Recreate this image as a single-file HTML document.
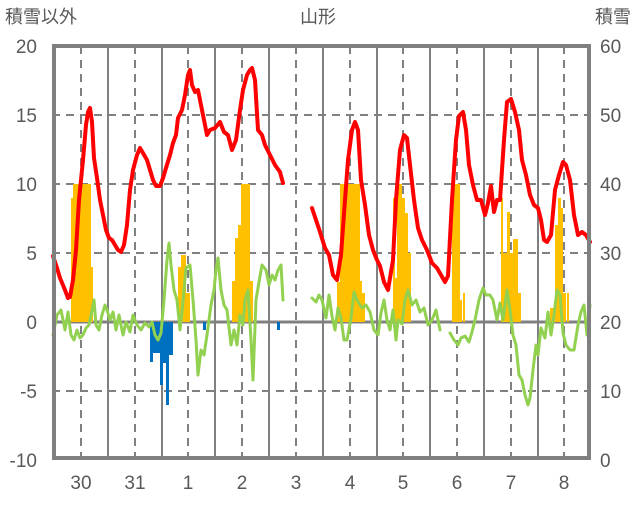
<!DOCTYPE html>
<html><head><meta charset="utf-8"><style>
body{margin:0;background:#fff}
text{font-family:"Liberation Sans","Noto Sans CJK JP",sans-serif;fill:#595959}
</style></head><body>
<svg width="636" height="501" viewBox="0 0 636 501" xmlns="http://www.w3.org/2000/svg">
<g font-size="18">
<text x="5" y="23">積雪以外</text>
<text x="318" y="23" text-anchor="middle">山形</text>
<text x="631" y="23" text-anchor="end">積雪</text>
</g>
<g font-size="19" text-anchor="end">
<text x="37" y="53">20</text><text x="37" y="122">15</text><text x="37" y="191">10</text>
<text x="37" y="260">5</text><text x="37" y="329">0</text><text x="37" y="398">-5</text><text x="37" y="467">-10</text>
</g>
<g font-size="19">
<text x="600" y="53">60</text><text x="600" y="122">50</text><text x="600" y="191">40</text>
<text x="600" y="260">30</text><text x="600" y="329">20</text><text x="600" y="398">10</text><text x="600" y="467">0</text>
</g>
<g font-size="19" text-anchor="middle">
<text x="81" y="489">30</text><text x="135" y="489">31</text><text x="188" y="489">1</text><text x="242" y="489">2</text>
<text x="296" y="489">3</text><text x="350" y="489">4</text><text x="403" y="489">5</text><text x="457" y="489">6</text>
<text x="511" y="489">7</text><text x="564" y="489">8</text>
</g>
<g stroke="#808080" stroke-width="2" stroke-dasharray="8,6" fill="none">
<path d="M52 115H591M52 184H591M52 253H591M52 391H591"/>
<path d="M81 46V460M135 46V460M188 46V460M242 46V460M296 46V460M350 46V460M403 46V460M457 46V460M511 46V460M564 46V460"/>
</g>
<g stroke="#808080" stroke-width="2">
<path d="M108 46V460M162 46V460M215 46V460M269 46V460M323 46V460M377 46V460M430 46V460M484 46V460M538 46V460"/>
</g>
<path d="M52 322H591" stroke="#808080" stroke-width="3"/>
<g fill="#FFC000">
<rect x="71" y="198" width="2" height="124"/><rect x="73" y="184" width="18" height="138"/><rect x="91" y="267" width="2" height="55"/>
<rect x="178" y="267" width="3" height="55"/><rect x="181" y="255" width="5" height="67"/><rect x="186" y="293" width="4" height="29"/>
<rect x="232" y="281" width="3" height="41"/><rect x="235" y="238" width="3" height="84"/><rect x="238" y="225" width="3" height="97"/><rect x="241" y="184" width="9" height="138"/><rect x="250" y="281" width="3" height="41"/>
<rect x="337" y="282" width="3" height="40"/><rect x="340" y="184" width="20" height="138"/><rect x="360" y="281" width="2" height="41"/><rect x="362" y="293" width="3" height="29"/>
<rect x="393" y="198" width="2" height="124"/><rect x="395" y="278" width="2" height="44"/><rect x="397" y="184" width="5" height="138"/><rect x="402" y="198" width="3" height="124"/><rect x="405" y="213" width="3" height="109"/><rect x="408" y="253" width="3" height="69"/>
<rect x="452" y="184" width="8" height="138"/><rect x="460" y="300" width="2" height="22"/><rect x="463" y="293" width="2" height="29"/>
<rect x="501" y="198" width="2" height="124"/><rect x="503" y="253" width="4" height="69"/><rect x="507" y="212" width="3" height="110"/><rect x="510" y="253" width="3" height="69"/><rect x="513" y="239" width="5" height="83"/><rect x="518" y="293" width="3" height="29"/>
<rect x="550" y="308" width="5" height="14"/><rect x="555" y="225" width="3" height="97"/><rect x="558" y="198" width="3" height="124"/><rect x="561" y="208" width="2" height="114"/><rect x="563" y="293" width="3" height="29"/><rect x="567" y="293" width="2" height="29"/>
</g>
<g fill="#0070C0">
<rect x="150" y="322" width="3" height="40"/><rect x="153" y="322" width="7" height="31"/><rect x="160" y="322" width="3" height="63"/><rect x="163" y="322" width="3" height="41"/><rect x="166" y="322" width="3" height="83"/><rect x="169" y="322" width="4" height="33"/>
<rect x="203" y="322" width="3" height="8"/><rect x="277" y="322" width="3" height="8"/>
</g>
<g fill="none" stroke-linejoin="round" stroke-linecap="round">
<polyline stroke="#92D050" stroke-width="3" points="53,335 57,315 61,310 65,330 68,312 71,335 74,340 77,330 80,338 83,335 86,328 89,325 92,310 94,300 96,325 99,330 102,315 105,305 107,310 110,320 113,312 116,330 119,315 123,335 126,322 130,332 133,315 137,325 141,330 145,323 149,327 152,322 155,335 158,340 161,333 164,300 167,260 169,243 171,265 174,290 177,300 180,330 182,312 186,268 190,265 193,300 196,340 198,375 201,350 204,355 207,335 211,305 214,290 216,270 218,258 221,290 224,305 227,310 231,345 234,330 237,345 240,315 243,325 245,300 248,290 251,340 253,380 256,300 259,282 262,265 266,270 269,285 272,275 275,280 278,270 281,265 283,300"/>
<polyline stroke="#92D050" stroke-width="3" points="312,298 316,302 319,295 322,300 326,318 329,295 332,316 335,330 338,308 341,318 344,340 347,340 351,318 354,292 357,300 362,308 366,305 370,312 374,330 378,335 381,313 384,300 387,320 390,330 393,310 396,340 398,320 402,324 405,300 408,290 412,305 416,300 420,312 424,308 428,325 432,320 436,310 440,330"/>
<polyline stroke="#92D050" stroke-width="3" points="450,333 454,340 458,345 461,338 465,336 469,342 472,332 475,320 479,300 483,288 486,295 490,295 493,300 497,320 500,303 503,320 507,290 510,310 513,335 516,345 519,375 522,380 525,395 528,405 530,398 533,370 536,345 538,355 541,328 545,338 548,312 551,335 554,315 557,290 560,295 563,333 566,345 570,350 574,350 578,325 581,312 584,305 587,335 590,305"/>
<polyline stroke="#FF0000" stroke-width="4" points="53,256 57,268 60,278 65,290 68,298 70,297 73,280 76,250 79,200 83,160 86,125 88,112 90,108 92,122 94,158 97,178 100,200 103,215 106,230 109,238 112,240 115,245 118,250 121,252 124,245 127,225 130,190 133,170 137,155 140,148 143,153 147,160 150,170 153,180 156,186 160,186 163,178 166,168 170,155 173,143 176,135 178,118 182,110 185,95 188,75 190,70 192,85 195,92 198,90 201,105 204,120 207,135 210,130 215,128 220,122 224,132 228,135 232,150 236,140 240,110 243,90 247,75 250,70 252,68 255,80 258,130 262,135 265,145 270,155 275,165 280,172 283,183"/>
<polyline stroke="#FF0000" stroke-width="4" points="312,208 316,220 320,232 325,248 329,255 333,275 337,280 341,255 345,200 348,160 352,130 355,122 358,130 361,180 365,205 369,235 373,250 377,260 380,266 384,282 388,290 393,260 396,200 400,150 404,135 407,138 410,165 414,200 418,228 422,240 427,250 432,263 437,268 441,275 445,282 448,276 452,200 456,140 459,116 463,112 466,130 469,165 473,185 477,200 481,200 485,215 488,203 491,186 494,212 497,200 500,200 504,140 507,102 511,99 515,112 519,130 522,160 526,175 530,195 534,205 538,208 541,220 544,240 547,242 551,235 555,190 559,175 563,162 566,165 570,180 574,215 578,235 582,232 586,235 590,242"/>
</g>
<path d="M131 458H283M311 458H590" stroke="#7030A0" stroke-width="3"/>
<rect x="54" y="46" width="535" height="412" fill="none" stroke="#808080" stroke-width="4"/>
</svg>
</body></html>
